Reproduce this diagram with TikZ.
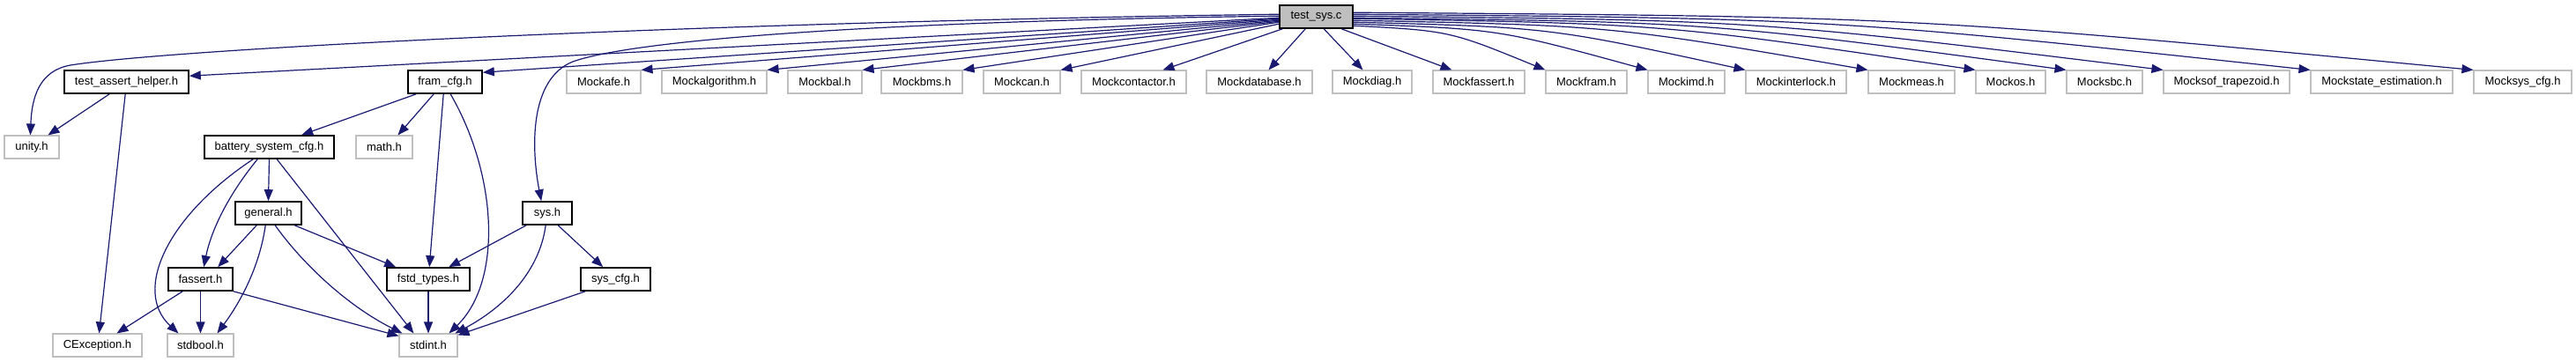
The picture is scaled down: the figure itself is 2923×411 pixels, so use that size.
\documentclass[tikz,border=0pt]{standalone}
\usepackage{fontspec}
\setmainfont{Liberation Sans}
\usetikzlibrary{arrows.meta,calc}
\definecolor{edgeblue}{HTML}{191970}
\definecolor{greyseventyfive}{HTML}{BFBFBF}
\begin{document}
\begin{tikzpicture}[x=1pt,y=-1pt,
  font=\fontsize{13}{15}\selectfont,
  docbox/.style={draw=black, line width=1.6pt, fill=white, minimum height=26pt, inner sep=0pt, text=black},
  extbox/.style={draw=greyseventyfive, line width=1.1pt, fill=white, minimum height=26pt, inner sep=0pt, text=black},
  mainbox/.style={docbox, fill=greyseventyfive},
  dep/.style={draw=edgeblue, line width=1.2pt, -{Triangle[length=13pt,width=10pt]}}
]
\useasboundingbox (0,0) rectangle (2923,411);

% ---- nodes ----
\node[mainbox, minimum width=83pt] (tsc) at (1493.5,19) {test\_sys.c};

\node[docbox, minimum width=141pt] (tah) at (143.5,93) {test\_assert\_helper.h};
\node[docbox, minimum width=84pt] (fram) at (505,93) {fram\_cfg.h};
\node[extbox, minimum width=84pt] (afe) at (685,93) {Mockafe.h};
\node[extbox, minimum width=119pt] (alg) at (810.5,93) {Mockalgorithm.h};
\node[extbox, minimum width=84pt] (bal) at (936,93) {Mockbal.h};
\node[extbox, minimum width=92pt] (bms) at (1046,93) {Mockbms.h};
\node[extbox, minimum width=87pt] (can) at (1159.5,93) {Mockcan.h};
\node[extbox, minimum width=119pt] (cont) at (1286.5,93) {Mockcontactor.h};
\node[extbox, minimum width=120pt] (db) at (1429,93) {Mockdatabase.h};
\node[extbox, minimum width=90pt] (diag) at (1557,93) {Mockdiag.h};
\node[extbox, minimum width=104pt] (fass) at (1678,93) {Mockfassert.h};
\node[extbox, minimum width=92pt] (mfram) at (1800,93) {Mockfram.h};
\node[extbox, minimum width=87pt] (imd) at (1913.5,93) {Mockimd.h};
\node[extbox, minimum width=114pt] (inter) at (2038,93) {Mockinterlock.h};
\node[extbox, minimum width=98pt] (meas) at (2169,93) {Mockmeas.h};
\node[extbox, minimum width=79pt] (os) at (2281.5,93) {Mockos.h};
\node[extbox, minimum width=86pt] (sbc) at (2388,93) {Mocksbc.h};
\node[extbox, minimum width=143pt] (sof) at (2526.5,93) {Mocksof\_trapezoid.h};
\node[extbox, minimum width=161pt] (state) at (2702.5,93) {Mockstate\_estimation.h};
\node[extbox, minimum width=111pt] (msys) at (2862.5,93) {Mocksys\_cfg.h};

\node[extbox, minimum width=62pt] (unity) at (36,167) {unity.h};
\node[docbox, minimum width=147pt] (bsc) at (305.5,167) {battery\_system\_cfg.h};
\node[extbox, minimum width=64pt] (math) at (436,167) {math.h};

\node[docbox, minimum width=75pt] (general) at (304.5,242) {general.h};
\node[docbox, minimum width=56pt] (sys) at (621,242) {sys.h};

\node[docbox, minimum width=73pt] (fassert) at (227.5,317) {fassert.h};
\node[docbox, minimum width=94pt] (fstd) at (486,317) {fstd\_types.h};
\node[docbox, minimum width=79pt] (syscfg) at (698.5,317) {sys\_cfg.h};

\node[extbox, minimum width=101pt] (cexc) at (110.5,392) {CException.h};
\node[extbox, minimum width=75pt] (stdbool) at (227.5,392) {stdbool.h};
\node[extbox, minimum width=66pt] (stdint) at (486,392) {stdint.h};

% ---- edges from test_sys.c, left side ----
\draw[dep] ($(tsc.north west)+(0,11)$) .. controls (800,25) and (200,55) .. (80,74)
  .. controls (45,80) and (36,110) .. ($(unity.north west)+(30,0)$);
\draw[dep] ($(tsc.north west)+(0,13)$) .. controls (1000,24) and (720,45) .. (650,70)
  .. controls (600,90) and (603,170) .. ($(sys.north west)+(22,0)$);
\draw[dep] ($(tsc.north west)+(0,15)$) -- ($(tah.north east)+(0,7)$);
\draw[dep] ($(tsc.north west)+(0,16)$) -- ($(fram.north east)+(0,3)$);
\draw[dep] ($(tsc.north west)+(0,17)$) -- (afe.north east);
\draw[dep] ($(tsc.north west)+(0,18)$) -- (alg.north east);
\draw[dep] ($(tsc.north west)+(0,19)$) -- (bal.north east);
\draw[dep] ($(tsc.north west)+(0,20)$) -- (bms.north east);
\draw[dep] ($(tsc.north west)+(0,22)$) -- (can.north east);
\draw[dep] ($(tsc.south west)+(4,0)$) -- ($(cont.north west)+(93,0)$);
\draw[dep] ($(tsc.south west)+(30,0)$) -- ($(db.north west)+(71,0)$);
\draw[dep] ($(tsc.south west)+(51,0)$) -- ($(diag.north west)+(35,0)$);
\draw[dep] ($(tsc.south west)+(71,0)$) -- ($(fass.north west)+(22,0)$);

% ---- edges from test_sys.c, right side ----
\draw[dep] ($(tsc.north east)+(0,24)$) .. controls (1645,35) .. (mfram.north west);
\draw[dep] ($(tsc.north east)+(0,22)$) .. controls (1700,33) .. (imd.north west);
\draw[dep] ($(tsc.north east)+(0,20)$) .. controls (1758,31) .. (inter.north west);
\draw[dep] ($(tsc.north east)+(0,18)$) .. controls (1828,29) .. (meas.north west);
\draw[dep] ($(tsc.north east)+(0,16)$) .. controls (1888,27) .. (os.north west);
\draw[dep] ($(tsc.north east)+(0,15)$) .. controls (1940,25) .. (sbc.north west);
\draw[dep] ($(tsc.north east)+(0,13)$) .. controls (1995,23) .. (sof.north west);
\draw[dep] ($(tsc.north east)+(0,11)$) .. controls (2078,21) .. (state.north west);
\draw[dep] ($(tsc.north east)+(0,9)$) .. controls (2171,19) .. (msys.north west);

% ---- lower edges ----
\draw[dep] ($(tah.south west)+(52,0)$) -- ($(unity.north west)+(50,0)$);
\draw[dep] ($(tah.south west)+(70,0)$) -- ($(cexc.north west)+(53,0)$);

\draw[dep] ($(fram.south west)+(10,0)$) -- ($(bsc.north west)+(111,0)$);
\draw[dep] ($(fram.south west)+(30,0)$) -- ($(math.north west)+(48,0)$);
\draw[dep] ($(fram.south west)+(41,0)$) -- ($(fstd.north west)+(49,0)$);
\draw[dep] ($(fram.south west)+(49,0)$) .. controls (565,200) and (570,320) .. ($(stdint.north west)+(57,0)$);

\draw[dep] ($(bsc.south west)+(56,0)$) .. controls (190,245) and (150,330) .. ($(stdbool.north west)+(13,0)$);
\draw[dep] ($(bsc.south west)+(61,0)$) .. controls (260,220) and (240,260) .. ($(fassert.north west)+(41,0)$);
\draw[dep] (bsc.south) -- (general.north);
\draw[dep] ($(bsc.south west)+(83,0)$) -- ($(stdint.north west)+(17,0)$);

\draw[dep] ($(general.south west)+(25,0)$) -- ($(fassert.north west)+(57,0)$);
\draw[dep] ($(general.south west)+(35,0)$) .. controls (295,300) and (275,340) .. ($(stdbool.north west)+(57,0)$);
\draw[dep] ($(general.south west)+(46,0)$) .. controls (340,295) and (390,345) .. ($(stdint.north west)+(4,0)$);
\draw[dep] ($(general.south west)+(68,0)$) -- ($(fstd.north west)+(11,0)$);

\draw[dep] ($(fassert.south west)+(17,0)$) -- ($(cexc.north west)+(73,0)$);
\draw[dep] (fassert.south) -- (stdbool.north);
\draw[dep] (fassert.south east) -- ($(stdint.north west)+(0,3)$);

\draw[dep] (fstd.south) -- (stdint.north);

\draw[dep] ($(sys.south west)+(5,0)$) -- ($(fstd.north west)+(71,0)$);
\draw[dep] ($(sys.south west)+(27,0)$) .. controls (612,310) and (570,350) .. ($(stdint.north west)+(64,0)$);
\draw[dep] ($(sys.south west)+(41,0)$) -- ($(syscfg.north west)+(26,0)$);
\draw[dep] ($(syscfg.south west)+(6,0)$) -- ($(stdint.north east)+(0,2)$);
\end{tikzpicture}
\end{document}
